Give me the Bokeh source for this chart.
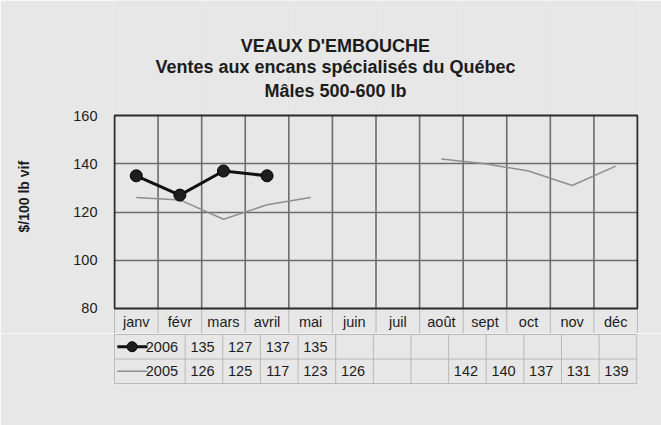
import math
from bokeh.plotting import figure
from bokeh.models import Range1d, FixedTicker, Label, Title
from bokeh.layouts import column
from bokeh.embed import file_html
from bokeh.resources import INLINE
from bokeh.core.properties import value

NaN = float("nan")

# ---- data ----
months = ["janv", "févr", "mars", "avril", "mai", "juin", "juil", "août", "sept", "oct", "nov", "déc"]
values_2006 = [135, 127, 137, 135, NaN, NaN, NaN, NaN, NaN, NaN, NaN, NaN]
values_2005 = [126, 125, 117, 123, 126, NaN, NaN, 142, 140, 137, 131, 139]
series_names = ["2006", "2005"]
y_ticks = [80, 100, 120, 140, 160]
title_lines = ["VEAUX D'EMBOUCHE", "Ventes aux encans spécialisés du Québec", "Mâles 500-600 lb"]
y_label = "$/100 lb vif"

BG = "#e7e7e7"
TXT = "#1c1c1c"
FONT = "Liberation Sans"
C2006 = "#111111"
C2005 = "#8e8e8e"
LC = "#b8b8b8"
GC = "#6c6c6c"

n = len(months)
xc = [i + 0.5 for i in range(n)]
bounds_x = list(range(n + 1))
ymin, ymax = y_ticks[0], y_ticks[-1]
y_bottom = 69.637      # bottom of the month-label row
y_month = 74.32

# ---- chart (titles + plot area + month row) ----
p = figure(width=661, height=333,
           x_range=Range1d(-0.0229, n + 0.0229), y_range=Range1d(y_bottom, 207.67),
           output_backend="svg", toolbar_location=None, title=None, x_axis_location=None,
           min_border_left=113, min_border_right=23, min_border_top=0, min_border_bottom=0,
           background_fill_color=BG, border_fill_color=BG, outline_line_color=None)

p.yaxis.ticker = FixedTicker(ticks=y_ticks)
p.yaxis.axis_line_color = None
p.yaxis.major_tick_line_color = None
p.yaxis.minor_tick_line_color = None
p.yaxis.major_tick_out = 0
p.yaxis.major_tick_in = 0
p.yaxis.major_label_standoff = 16
p.yaxis.major_label_text_font = FONT
p.yaxis.major_label_text_font_size = "14.5px"
p.yaxis.major_label_text_color = TXT

# spacer between tick labels and the axis title
p.add_layout(Title(text=" ", text_font_size="1px", standoff=36), "left")
p.add_layout(Title(text=y_label, align="left", offset=101, standoff=0,
                   text_font=FONT, text_font_style="bold", text_font_size="14px",
                   text_color=TXT), "left")

p.ygrid.ticker = FixedTicker(ticks=y_ticks[1:-1])
p.ygrid.bounds = (0, n)
p.ygrid.grid_line_color = GC
p.ygrid.grid_line_width = 1.6

# vertical grid lines inside the plot area
p.segment(x0=bounds_x[1:-1], y0=[ymin] * (n - 1), x1=bounds_x[1:-1], y1=[ymax] * (n - 1),
          line_color=GC, line_width=1.6)
# month-row separators
p.segment(x0=bounds_x, y0=[ymin] * (n + 1), x1=bounds_x, y1=[y_bottom] * (n + 1),
          line_color=LC, line_width=1)

# plot area border
p.quad(left=[0], right=[n], bottom=[ymin], top=[ymax], fill_color=None,
       line_color="#2a2a2a", line_width=2)

p.line(xc, values_2005, line_color=C2005, line_width=1.5)
p.line(xc, values_2006, line_color=C2006, line_width=3)
p.scatter(xc, values_2006, size=12, fill_color="#1e1e1e", line_color="#000000", line_width=1)

common = dict(text_align="center", text_baseline="middle", text_font=value(FONT),
              text_font_size="14.5px", text_color=TXT)
p.text(x=xc, y=[y_month] * n, text=months, **common)

for txt, yb in zip(title_lines, [189.0, 180.0, 170.1]):
    p.add_layout(Label(x=5.07, y=yb, text=txt,
                       text_align="center", text_baseline="alphabetic",
                       text_font=FONT, text_font_style="bold", text_font_size="18px",
                       text_color=TXT))

# ---- data table rows ----
t = figure(width=661, height=92, x_range=Range1d(-1.9044, 12.0461), y_range=Range1d(2.04, -0.04),
           output_backend="svg", toolbar_location=None, x_axis_location=None,
           y_axis_location=None, title=None,
           min_border_left=31, min_border_right=22, min_border_top=0, min_border_bottom=41,
           background_fill_color=BG, border_fill_color=BG, outline_line_color=None)

left = -1.88
t.segment(x0=[left] * 3, y0=[0, 1, 2], x1=[n] * 3, y1=[0, 1, 2], line_color=LC, line_width=1)
t.segment(x0=bounds_x + [left], y0=[0] * (n + 2),
          x1=bounds_x + [left], y1=[2] * (n + 2), line_color=LC, line_width=1)

x6 = [x for x, v in zip(xc, values_2006) if not math.isnan(v)]
t6 = [str(int(v)) for v in values_2006 if not math.isnan(v)]
t.text(x=x6, y=[0.5] * len(x6), text=t6, x_offset=-1.5, **common)
x5 = [x for x, v in zip(xc, values_2005) if not math.isnan(v)]
t5 = [str(int(v)) for v in values_2005 if not math.isnan(v)]
t.text(x=x5, y=[1.5] * len(x5), text=t5, x_offset=-1.5, **common)

# legend entries
t.text(x=[-0.19, -0.19], y=[0.5, 1.5], text=series_names, text_align="right",
       text_baseline="middle", text_font=value(FONT), text_font_size="14.5px", text_color=TXT)
t.line(x=[-1.8, -1.0], y=[0.5, 0.5], line_color=C2006, line_width=3)
t.scatter(x=[-1.41], y=[0.5], size=10, fill_color="#1e1e1e", line_color="#000000")
t.line(x=[-1.8, -1.0], y=[1.5, 1.5], line_color=C2005, line_width=1.5)

layout = column(p, t, spacing=0)

open("out.html", "w").write(file_html(layout, INLINE))
